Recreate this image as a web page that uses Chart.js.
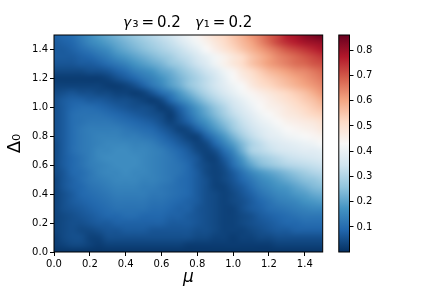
<!DOCTYPE html>
<html>
<head>
<meta charset="utf-8">
<script src="https://cdn.jsdelivr.net/npm/chart.js@4/dist/chart.umd.min.js"></script>
<style>
  html, body { margin: 0; padding: 0; background: #fff; }
  canvas { display: block; }
</style>
</head>
<body>
<canvas id="myChart" width="432" height="288"></canvas>
<script>
// tick labels
const axisTicks = [0, 0.2, 0.4, 0.6, 0.8, 1.0, 1.2, 1.4];
const colorbarTicks = [0.1, 0.2, 0.3, 0.4, 0.5, 0.6, 0.7, 0.8];
const colorMin = 0.001;
const colorMax = 0.86;

// grid positions of the heatmap
const muValues = [0, 0.05, 0.1, 0.15, 0.2, 0.25, 0.3, 0.35, 0.4, 0.45, 0.5, 0.55, 0.6, 0.65, 0.7, 0.75, 0.8, 0.85, 0.9, 0.95, 1.0, 1.05, 1.1, 1.15, 1.2, 1.25, 1.3, 1.35, 1.4, 1.45, 1.5];
const deltaValues = [1.5, 1.45, 1.4, 1.35, 1.3, 1.25, 1.2, 1.15, 1.1, 1.05, 1.0, 0.95, 0.9, 0.85, 0.8, 0.75, 0.7, 0.65, 0.6, 0.55, 0.5, 0.45, 0.4, 0.35, 0.3, 0.25, 0.2, 0.15, 0.1, 0.05, 0];

// one row per delta value, top of the plot first
const heatRows = [
  [.08,.09,.10,.13,.16,.19,.21,.23,.25,.27,.29,.31,.33,.35,.38,.41,.44,.47,.50,.52,.55,.58,.62,.65,.69,.72,.77,.79,.82,.84,.86],
  [.07,.08,.09,.12,.15,.17,.19,.21,.23,.25,.27,.29,.31,.33,.36,.39,.42,.45,.48,.51,.54,.57,.60,.64,.68,.72,.75,.77,.79,.80,.81],
  [.07,.07,.08,.10,.12,.14,.16,.19,.21,.23,.25,.27,.29,.31,.33,.36,.39,.43,.46,.49,.52,.55,.58,.61,.64,.67,.70,.72,.74,.76,.78],
  [.07,.07,.07,.08,.09,.11,.13,.16,.18,.20,.22,.24,.26,.28,.31,.33,.36,.39,.42,.45,.48,.51,.55,.58,.61,.64,.66,.68,.70,.72,.74],
  [.06,.06,.06,.07,.07,.08,.10,.12,.14,.17,.19,.21,.23,.26,.28,.31,.34,.37,.41,.45,.48,.51,.55,.58,.61,.63,.65,.67,.68,.70,.71],
  [.04,.04,.04,.04,.05,.05,.06,.08,.10,.13,.15,.17,.20,.22,.25,.28,.31,.34,.37,.41,.44,.48,.51,.54,.57,.59,.61,.63,.64,.66,.68],
  [.02,.02,.02,.02,.02,.02,.03,.05,.07,.09,.12,.14,.17,.20,.23,.26,.29,.32,.35,.39,.43,.46,.49,.52,.54,.56,.58,.60,.62,.64,.66],
  [.03,.03,.03,.03,.03,.03,.02,.02,.03,.05,.08,.12,.15,.19,.22,.26,.29,.32,.35,.38,.41,.43,.47,.50,.52,.54,.56,.58,.60,.62,.64],
  [.04,.05,.06,.05,.05,.04,.04,.03,.03,.02,.03,.06,.10,.13,.18,.22,.26,.30,.33,.36,.39,.42,.44,.46,.48,.50,.52,.54,.56,.59,.62],
  [.05,.07,.08,.08,.07,.07,.06,.05,.05,.04,.03,.02,.04,.09,.14,.18,.22,.26,.30,.33,.36,.39,.42,.44,.46,.48,.50,.52,.54,.56,.59],
  [.05,.07,.09,.10,.10,.09,.08,.07,.06,.05,.05,.04,.02,.04,.08,.13,.18,.22,.26,.30,.34,.37,.40,.43,.45,.46,.48,.50,.52,.54,.56],
  [.05,.07,.10,.11,.11,.11,.10,.09,.08,.07,.06,.05,.04,.02,.06,.11,.16,.20,.24,.28,.32,.35,.38,.41,.43,.45,.47,.48,.50,.52,.53],
  [.05,.07,.10,.11,.12,.12,.12,.11,.10,.09,.08,.07,.05,.03,.05,.08,.13,.17,.21,.25,.29,.33,.36,.39,.41,.43,.45,.46,.47,.48,.50],
  [.05,.07,.10,.12,.13,.13,.13,.13,.12,.11,.10,.09,.07,.05,.03,.04,.08,.13,.18,.22,.27,.31,.34,.37,.39,.41,.43,.44,.45,.46,.48],
  [.05,.07,.10,.12,.13,.14,.14,.14,.13,.13,.12,.11,.09,.07,.05,.03,.03,.08,.13,.18,.23,.28,.32,.35,.38,.39,.41,.42,.43,.44,.45],
  [.04,.07,.10,.12,.13,.14,.15,.15,.15,.14,.14,.13,.11,.09,.07,.05,.03,.04,.09,.14,.19,.24,.29,.32,.35,.37,.38,.39,.40,.41,.43],
  [.04,.07,.10,.12,.13,.15,.15,.16,.16,.15,.15,.14,.13,.11,.09,.07,.04,.03,.05,.10,.15,.22,.29,.31,.33,.35,.36,.37,.38,.38,.39],
  [.04,.07,.09,.11,.13,.15,.16,.16,.16,.16,.15,.14,.13,.12,.10,.08,.06,.03,.03,.07,.12,.18,.24,.27,.29,.31,.33,.34,.35,.36,.37],
  [.04,.07,.09,.11,.13,.14,.15,.16,.16,.16,.15,.14,.13,.12,.11,.09,.06,.04,.03,.05,.10,.15,.20,.24,.26,.28,.30,.31,.32,.33,.34],
  [.04,.06,.09,.10,.12,.14,.15,.15,.16,.15,.15,.14,.13,.12,.11,.09,.07,.04,.03,.04,.07,.11,.15,.18,.20,.22,.24,.26,.28,.30,.31],
  [.03,.06,.08,.10,.12,.13,.14,.15,.15,.15,.14,.14,.13,.12,.10,.09,.07,.05,.03,.04,.06,.09,.12,.15,.17,.19,.21,.23,.25,.26,.28],
  [.03,.06,.08,.09,.11,.12,.13,.14,.14,.14,.13,.13,.12,.11,.10,.09,.07,.05,.03,.03,.05,.07,.10,.13,.15,.17,.18,.20,.22,.24,.25],
  [.03,.05,.07,.09,.10,.11,.12,.13,.13,.13,.13,.12,.12,.11,.10,.09,.07,.05,.04,.03,.04,.06,.08,.11,.13,.15,.16,.18,.19,.21,.22],
  [.03,.05,.07,.08,.09,.10,.11,.12,.12,.12,.12,.11,.11,.10,.09,.08,.07,.05,.04,.03,.04,.05,.07,.09,.11,.13,.14,.15,.17,.18,.19],
  [.03,.05,.06,.07,.08,.09,.10,.11,.11,.11,.11,.10,.10,.09,.08,.08,.06,.05,.04,.03,.03,.05,.07,.08,.10,.11,.12,.13,.14,.15,.15],
  [.03,.04,.05,.06,.07,.08,.09,.09,.10,.10,.09,.09,.09,.08,.08,.07,.06,.05,.04,.03,.03,.04,.05,.07,.08,.09,.10,.11,.12,.12,.12],
  [.03,.04,.05,.05,.06,.07,.07,.08,.08,.08,.08,.08,.08,.07,.07,.07,.06,.05,.04,.03,.03,.04,.05,.06,.07,.08,.09,.09,.10,.10,.10],
  [.03,.04,.05,.04,.04,.05,.06,.06,.07,.07,.07,.06,.06,.06,.06,.06,.05,.05,.04,.03,.03,.03,.04,.05,.06,.07,.07,.08,.08,.08,.08],
  [.02,.04,.05,.05,.03,.03,.05,.05,.05,.05,.05,.05,.05,.05,.05,.05,.04,.04,.03,.03,.02,.03,.03,.04,.04,.05,.05,.05,.05,.05,.05],
  [.02,.03,.04,.04,.03,.02,.03,.03,.03,.03,.03,.03,.03,.03,.03,.02,.02,.02,.02,.02,.02,.02,.02,.02,.02,.03,.03,.03,.03,.03,.03],
  [.01,.01,.01,.01,.01,.01,.01,.01,.01,.01,.01,.01,.01,.01,.01,.01,.01,.01,.01,.01,.01,.01,.01,.01,.01,.01,.01,.01,.01,.01,.01]
];

// RdBu reversed, as matplotlib has it
const colormap = ["#053061", "#2166ac", "#4393c3", "#92c5de", "#d1e5f0", "#f7f7f7", "#fddbc7", "#f4a582", "#d6604d", "#b2182b", "#67001f"];

function hexToRgb(hex) {
  return [1, 3, 5].map(i => parseInt(hex.slice(i, i + 2), 16));
}

function colorFor(v) {
  const t = Math.min(1, Math.max(0, (v - colorMin) / (colorMax - colorMin))) * (colormap.length - 1);
  const i = Math.min(colormap.length - 2, Math.floor(t));
  const a = hexToRgb(colormap[i]);
  const b = hexToRgb(colormap[i + 1]);
  return a.map((c, k) => Math.round(c + (b[k] - c) * (t - i)));
}

const points = [];
deltaValues.forEach((d, r) => {
  muValues.forEach((m, c) => points.push({ x: m, y: d, v: heatRows[r][c] }));
});

// paints the grid as a smoothed image, placed through the chart scales
const heatmapPlugin = {
  id: "heatmap",
  beforeDatasetsDraw(chart) {
    const { ctx, chartArea, scales } = chart;
    const cols = muValues.length;
    const rows = deltaValues.length;
    const off = document.createElement("canvas");
    off.width = cols;
    off.height = rows;
    const octx = off.getContext("2d");
    const img = octx.createImageData(cols, rows);
    chart.data.datasets[0].data.forEach((p, i) => {
      const rgb = colorFor(p.v);
      img.data.set([rgb[0], rgb[1], rgb[2], 255], i * 4);
    });
    octx.putImageData(img, 0, 0);
    const dx = 0.025;
    const x0 = scales.x.getPixelForValue(-dx);
    const x1 = scales.x.getPixelForValue(1.5 + dx);
    const y0 = scales.y.getPixelForValue(1.5 + dx);
    const y1 = scales.y.getPixelForValue(-dx);
    ctx.save();
    ctx.beginPath();
    ctx.rect(chartArea.left, chartArea.top, chartArea.width, chartArea.height);
    ctx.clip();
    ctx.imageSmoothingEnabled = true;
    ctx.imageSmoothingQuality = "high";
    ctx.drawImage(off, x0, y0, x1 - x0, y1 - y0);
    ctx.restore();
  },
  afterLayout(chart) {
    // colorbar axis sits off to the right of the plot
    const cb = chart.scales.cb;
    cb.left += 26.8;
    cb.right += 26.8;
  },
  afterDraw(chart) {
    const { ctx, chartArea, scales } = chart;
    const cb = scales.cb;
    const barLeft = cb.left - 10.7;
    const grad = ctx.createLinearGradient(0, cb.getPixelForValue(colorMin), 0, cb.getPixelForValue(colorMax));
    colormap.forEach((c, i) => grad.addColorStop(i / (colormap.length - 1), c));
    ctx.save();
    ctx.fillStyle = grad;
    ctx.fillRect(barLeft, chartArea.top, 10.7, chartArea.height);
    ctx.strokeStyle = "#000";
    ctx.lineWidth = 1;
    ctx.strokeRect(barLeft, chartArea.top, 10.7, chartArea.height);
    ctx.strokeRect(chartArea.left, chartArea.top, chartArea.width, chartArea.height);
    ctx.restore();
  }
};

const tickFont = { family: "DejaVu Sans", size: 10 };
const tickFormat = v => v.toFixed(1);

new Chart(document.getElementById("myChart").getContext("2d"), {
  type: "scatter",
  data: {
    datasets: [{ data: points, pointRadius: 0, pointHoverRadius: 0 }]
  },
  plugins: [heatmapPlugin],
  options: {
    responsive: false,
    animation: false,
    events: [],
    layout: { padding: 0 },
    plugins: {
      legend: { display: false },
      tooltip: { enabled: false },
      title: {
        display: true,
        fullSize: false,
        text: "\u{1D6FE}\u2083\u2009=\u20090.2\u2003\u{1D6FE}\u2081\u2009=\u20090.2",
        color: "#000",
        font: { family: "DejaVu Sans", size: 15, weight: "normal" },
        padding: { top: 14, bottom: 3 }
      }
    },
    scales: {
      x: {
        type: "linear",
        min: 0,
        max: 1.5,
        afterBuildTicks: s => { s.ticks = axisTicks.map(v => ({ value: v })); },
        afterFit: s => { s.height = 36; },
        grid: { display: true, drawOnChartArea: false, drawTicks: true, tickLength: 4, color: "#000" },
        border: { display: false },
        ticks: { color: "#000", font: tickFont, padding: 2, maxRotation: 0, callback: tickFormat },
        title: { display: true, text: "\u03BC", color: "#000", font: { family: "DejaVu Sans", size: 17, style: "italic" }, padding: 0 }
      },
      y: {
        type: "linear",
        min: 0,
        max: 1.5,
        afterBuildTicks: s => { s.ticks = axisTicks.map(v => ({ value: v })); },
        afterFit: s => { s.width = 54; },
        grid: { display: true, drawOnChartArea: false, drawTicks: true, tickLength: 4, color: "#000" },
        border: { display: false },
        ticks: { color: "#000", font: tickFont, padding: 2, callback: tickFormat },
        title: { display: true, text: "\u0394\u2080", color: "#000", font: { family: "DejaVu Sans", size: 18 }, padding: { top: 5, bottom: 0 } }
      },
      cb: {
        type: "linear",
        position: "right",
        min: colorMin,
        max: colorMax,
        afterBuildTicks: s => { s.ticks = colorbarTicks.map(v => ({ value: v })); },
        afterFit: s => { s.width = 109.3; },
        grid: { display: true, drawOnChartArea: false, drawTicks: true, tickLength: 4, color: "#000" },
        border: { display: false },
        ticks: { color: "#000", font: tickFont, padding: 3, callback: tickFormat }
      }
    }
  }
});
</script>
</body>
</html>
